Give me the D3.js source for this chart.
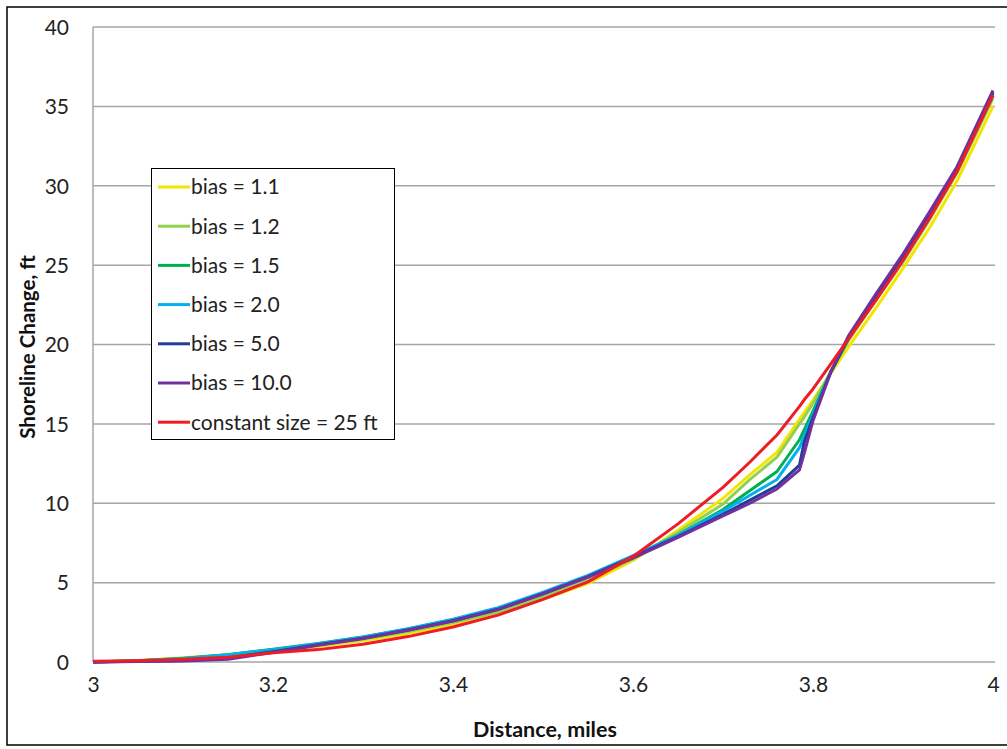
<!DOCTYPE html>
<html><head><meta charset="utf-8">
<script src="https://cdn.jsdelivr.net/npm/d3@7"></script>
<style>
html,body{margin:0;padding:0;background:#fff;}
svg text{font-family:"Lato","Carlito","Open Sans",sans-serif;}
</style></head>
<body><svg id="chart" width="1007" height="749"></svg>
<script>
const distance = [3.00,3.05,3.10,3.15,3.20,3.25,3.30,3.35,3.40,3.45,3.50,3.55,3.60,3.65,3.70,3.73,3.76,3.785,3.79,3.80,3.82,3.84,3.87,3.90,3.93,3.96,4.00];

const bias11  = [0.0,0.09,0.27,0.45,0.72,0.98,1.33,1.8,2.35,3.05,3.95,4.95,6.4, 8.3,10.3,11.8,13.2,15.3,15.7,16.5,18.2,19.9,22.3,24.8,27.4,30.3,35.0];
const bias12  = [0.0,0.08,0.24,0.45,0.74,1.05,1.44,1.92,2.48,3.15,4.1,5.2,6.5, 8.15,9.95,11.5,12.9,15.0,15.4,16.3,18.3,20.3,22.8,25.2,27.9,30.8,35.5];
const bias15  = [0.0,0.08,0.22,0.46,0.8,1.16,1.57,2.08,2.66,3.36,4.32,5.38,6.6, 8.0,9.6,10.8,12.0,14.0,14.6,15.8,18.3,20.4,22.9,25.4,28.1,30.9,35.7];
const bias20  = [0.0,0.08,0.22,0.45,0.78,1.15,1.58,2.1,2.7,3.42,4.4,5.45,6.7, 8.0,9.5,10.5,11.5,13.5,14.2,15.6,18.3,20.5,23.0,25.5,28.2,31.0,35.8];
const bias50  = [0.0,0.04,0.1,0.25,0.65,1.08,1.5,2.02,2.6,3.32,4.3,5.38,6.6, 7.9,9.3,10.2,11.1,12.4,13.8,15.4,18.3,20.5,23.1,25.6,28.3,31.1,35.9];
const bias100 = [0.0,0.03,0.06,0.18,0.6,1.05,1.48,2.0,2.58,3.3,4.3,5.35,6.55, 7.85,9.2,10.0,10.9,12.1,13.1,15.2,18.3,20.6,23.2,25.7,28.4,31.2,36.0];
const constant25 = [0.05,0.08,0.17,0.3,0.58,0.78,1.12,1.6,2.2,2.95,3.95,5.05,6.65, 8.7,11.0,12.6,14.3,16.1,16.5,17.2,18.8,20.4,22.8,25.3,28.0,30.9,35.7];

const seriesNames = ["bias = 1.1","bias = 1.2","bias = 1.5","bias = 2.0","bias = 5.0","bias = 10.0","constant size = 25 ft"];
const seriesValues = [bias11,bias12,bias15,bias20,bias50,bias100,constant25];
const seriesColors = ["#F2E500","#92D050","#00B050","#00B0F0","#233C96","#7030A0","#EE1C25"];

const xTicks = [3,3.2,3.4,3.6,3.8,4];
const xTickLabels = ["3","3.2","3.4","3.6","3.8","4"];
const yTicks = [0,5,10,15,20,25,30,35,40];
const xTitle = "Distance, miles";
const yTitle = "Shoreline Change, ft";

const svg = d3.select("#chart");
const x = d3.scaleLinear().domain([3,4]).range([93,993]);
const y = d3.scaleLinear().domain([0,40]).range([662,27]);

// outer border
svg.append("rect").attr("x",7).attr("y",7).attr("width",1010).attr("height",738)
  .attr("fill","#fff").attr("stroke","#000").attr("stroke-width",1.5);

// gridlines
svg.append("g").selectAll("line").data(yTicks).join("line")
  .attr("x1",x(3)).attr("x2",995).attr("y1",d=>y(d)).attr("y2",d=>y(d))
  .attr("stroke","#a6a6a6").attr("stroke-width",1.5);
// left axis line
svg.append("line").attr("x1",x(3)).attr("x2",x(3)).attr("y1",y(40)).attr("y2",y(0))
  .attr("stroke","#a6a6a6").attr("stroke-width",1.5);

// y axis labels
const yAxis = svg.append("g").attr("transform","translate(69,0)")
  .call(d3.axisLeft(y).tickValues(yTicks).tickSize(0).tickPadding(0).tickFormat(d3.format("d")));
yAxis.select(".domain").remove();
yAxis.selectAll("text").attr("font-size",21).attr("fill","#222").attr("font-family","Lato, sans-serif").attr("dy","0.35em");

// x axis labels
const xAxis = svg.append("g").attr("transform","translate(0,677)")
  .call(d3.axisBottom(x).tickValues(xTicks).tickSize(0).tickPadding(0).tickFormat((d,i)=>xTickLabels[i]));
xAxis.select(".domain").remove();
xAxis.selectAll("text").attr("font-size",21).attr("fill","#222").attr("font-family","Lato, sans-serif").attr("dy","0.71em");

// titles
svg.append("text").attr("x",545).attr("y",737).attr("text-anchor","middle")
  .attr("font-size",21.5).attr("font-weight","bold").attr("fill","#111").text(xTitle);
svg.append("text").attr("transform","translate(35,347) rotate(-90)").attr("text-anchor","middle")
  .attr("font-size",20.5).attr("font-weight","bold").attr("fill","#111").text(yTitle);

// lines
const line = d3.line().x((d,i)=>x(distance[i])).y(d=>y(d));
svg.append("g").selectAll("path").data(seriesValues).join("path")
  .attr("d",d=>line(d)).attr("fill","none")
  .attr("stroke",(d,i)=>seriesColors[i]).attr("stroke-width",3)
  .attr("stroke-linejoin","round");

// legend
const lg = svg.append("g");
lg.append("rect").attr("x",151.5).attr("y",168.5).attr("width",243).attr("height",271)
  .attr("fill","#fff").attr("stroke","#000").attr("stroke-width",1);
const items = lg.selectAll("g.item").data(seriesNames).join("g").attr("class","item")
  .attr("transform",(d,i)=>`translate(0,${187+i*39.2})`);
items.append("line").attr("x1",158).attr("x2",190).attr("y1",0).attr("y2",0)
  .attr("stroke",(d,i)=>seriesColors[i]).attr("stroke-width",3);
items.append("text").attr("x",191).attr("y",0).attr("dy","0.35em")
  .attr("font-size",21).attr("fill","#222").text(d=>d);
</script>
</body></html>
